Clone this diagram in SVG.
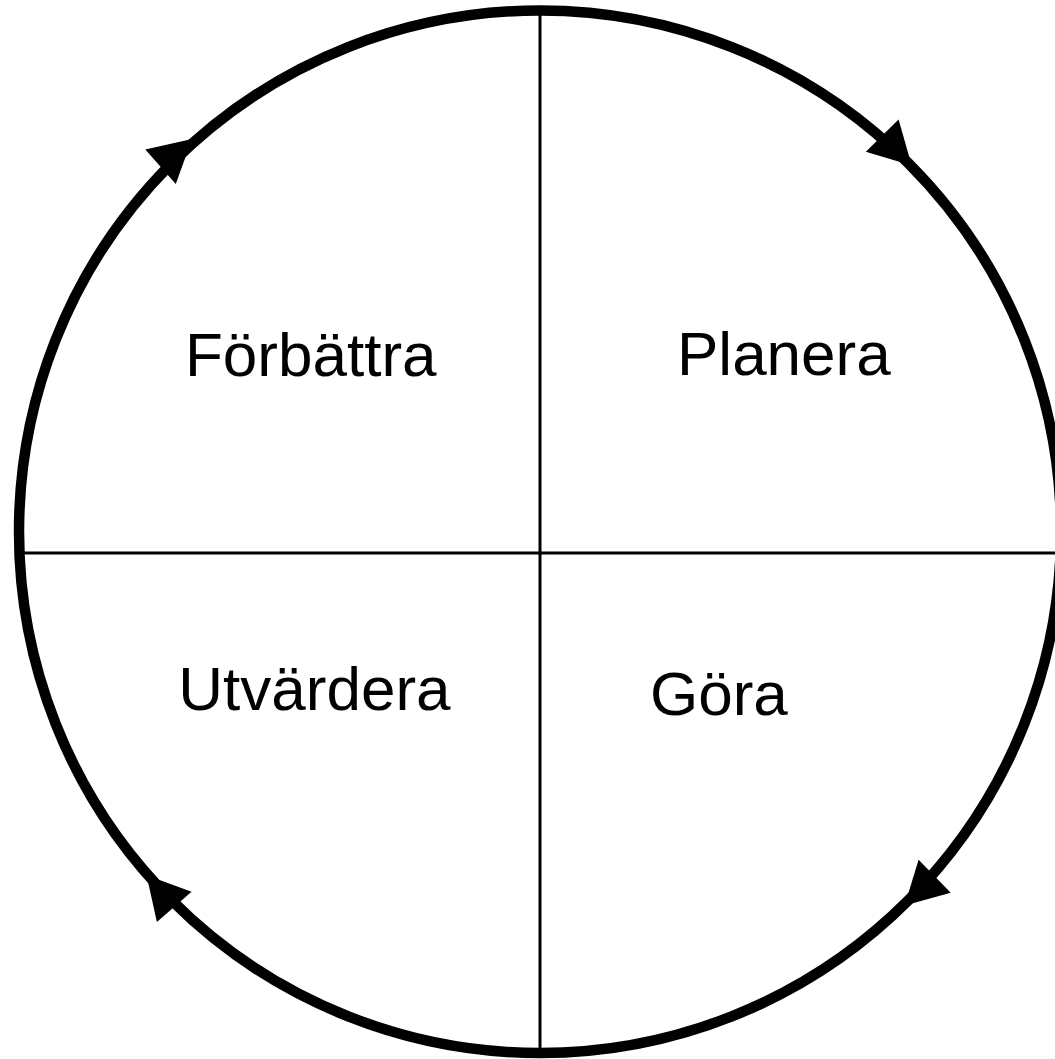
<svg xmlns="http://www.w3.org/2000/svg" width="1055" height="1059" viewBox="0 0 1055 1059">
<style>
.ring{fill:none;stroke:#000;stroke-width:10.5}
.div{stroke:#000;stroke-width:3;fill:none}
.lbl{font-family:"Liberation Sans",Arial,sans-serif;font-size:62px;fill:#000}
</style>
<defs>
<polygon id="ah" points="0,0 -42,-23 -42,23" fill="#000"/>
</defs>
<rect width="1055" height="1059" fill="#fff"/>
<g id="connectors">
<ellipse class="ring" cx="540" cy="531.75" rx="521" ry="521.25"/>
<line class="div" x1="540" y1="10" x2="540" y2="1053"/>
<line class="div" x1="20" y1="553" x2="1055" y2="553"/>
<use href="#ah" transform="translate(911.7,165.5) rotate(45.4)"/>
<use href="#ah" transform="translate(904.6,905.6) rotate(135.7)"/>
<use href="#ah" transform="translate(146.6,875.2) rotate(228.9)"/>
<use href="#ah" transform="translate(192,139) rotate(-41.5)"/>
</g>
<g id="node-planera"><text class="lbl" x="677" y="375">Planera</text></g>
<g id="node-gora"><text class="lbl" x="650" y="715">Göra</text></g>
<g id="node-utvardera"><text class="lbl" x="178.3" y="710">Utvärdera</text></g>
<g id="node-forbattra"><text class="lbl" x="185" y="376">Förbättra</text></g>
</svg>
